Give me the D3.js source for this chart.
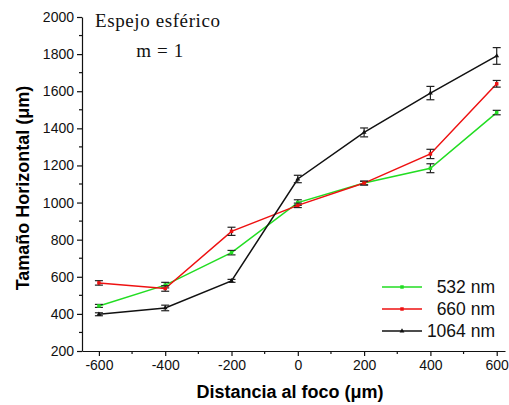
<!DOCTYPE html>
<html><head><meta charset="utf-8">
<script src="https://cdn.jsdelivr.net/npm/d3@7"></script>
<style>body{margin:0;background:#fff}svg{display:block}</style>
</head><body>
<svg id="c" width="509" height="405"></svg>
<script>
const distances = [-600, -400, -200, 0, 200, 400, 600];
const green532 = [443, 555, 730, 1000, 1105, 1185, 1485];
const green532Err = [8, 15, 12, 15, 10, 24, 12];
const red660 = [567, 537, 845, 985, 1105, 1262, 1640];
const red660Err = [12, 15, 22, 12, 10, 25, 18];
const black1064 = [398, 432, 578, 1127, 1378, 1590, 1790];
const black1064Err = [8, 15, 8, 20, 24, 36, 45];
const xTicks = [-600, -400, -200, 0, 200, 400, 600];
const yTicks = [200, 400, 600, 800, 1000, 1200, 1400, 1600, 1800, 2000];
const seriesNames = ["532 nm", "660 nm", "1064 nm"];
const seriesColors = ["#22dd22", "#ee1111", "#111111"];

const svg = d3.select("#c");
const x = d3.scaleLinear().domain([-651, 625]).range([82, 505]);
const y = d3.scaleLinear().domain([200, 2000]).range([351, 17]);
const fmt = d => String(d);

// axes
const xAxis = d3.axisBottom(x).tickValues(xTicks).tickFormat(fmt).tickSize(5).tickSizeOuter(0).tickPadding(4);
const gx = svg.append("g").attr("transform", "translate(0,351)").call(xAxis);
const yAxis = d3.axisLeft(y).tickValues(yTicks).tickFormat(fmt).tickSize(5).tickSizeOuter(0).tickPadding(3);
const gy = svg.append("g").attr("transform", "translate(82,0)").call(yAxis);
[gx, gy].forEach(g => {
  g.selectAll("text").attr("font-family", "Liberation Sans, Arial, sans-serif").attr("font-size", 14).attr("fill", "#111");
  g.selectAll("line,path").attr("stroke", "#111").attr("stroke-width", 1.2);
});
// minor ticks
svg.append("g").selectAll("line").data(d3.range(-500, 601, 200)).join("line")
  .attr("x1", d => x(d)).attr("x2", d => x(d)).attr("y1", 351).attr("y2", 354)
  .attr("stroke", "#111").attr("stroke-width", 1.2);
svg.append("g").selectAll("line").data(d3.range(300, 2000, 200)).join("line")
  .attr("x1", 79).attr("x2", 82).attr("y1", d => y(d)).attr("y2", d => y(d))
  .attr("stroke", "#111").attr("stroke-width", 1.2);

// axis titles
svg.append("text").attr("x", 290).attr("y", 398).attr("text-anchor", "middle")
  .attr("font-family", "Liberation Sans, Arial, sans-serif").attr("font-weight", "bold").attr("font-size", 18)
  .text("Distancia al foco (μm)");
svg.append("text").attr("transform", "translate(29,188) rotate(-90)").attr("text-anchor", "middle")
  .attr("font-family", "Liberation Sans, Arial, sans-serif").attr("font-weight", "bold").attr("font-size", 18)
  .text("Tamaño Horizontal (μm)");

// annotation
svg.append("text").attr("x", 95).attr("y", 27).attr("font-family", "Liberation Serif, Times New Roman, serif")
  .attr("font-size", 19).attr("letter-spacing", 0.6).attr("fill", "#111").text("Espejo esférico");
svg.append("text").attr("x", 160).attr("y", 57).attr("text-anchor", "middle").attr("font-family", "Liberation Serif, Times New Roman, serif")
  .attr("font-size", 19).attr("letter-spacing", 0.6).attr("fill", "#111").text("m = 1");

const series = [
  {vals: green532, err: green532Err, marker: "square"},
  {vals: red660, err: red660Err, marker: "square"},
  {vals: black1064, err: black1064Err, marker: "triangle"}
];
const line = d3.line().x(d => x(d[0])).y(d => y(d[1]));

series.forEach((s, i) => {
  const pts = distances.map((d, j) => [d, s.vals[j], s.err[j]]);
  const g = svg.append("g");
  g.append("path").datum(pts).attr("d", line).attr("fill", "none").attr("stroke", seriesColors[i]).attr("stroke-width", 1.5);
  const eb = g.selectAll(".eb").data(pts).join("g");
  eb.append("line").attr("x1", d => x(d[0])).attr("x2", d => x(d[0]))
    .attr("y1", d => y(d[1] - d[2])).attr("y2", d => y(d[1] + d[2])).attr("stroke", "#222").attr("stroke-width", 1.2);
  eb.append("line").attr("x1", d => x(d[0]) - 4).attr("x2", d => x(d[0]) + 4)
    .attr("y1", d => y(d[1] - d[2])).attr("y2", d => y(d[1] - d[2])).attr("stroke", "#222").attr("stroke-width", 1.2);
  eb.append("line").attr("x1", d => x(d[0]) - 4).attr("x2", d => x(d[0]) + 4)
    .attr("y1", d => y(d[1] + d[2])).attr("y2", d => y(d[1] + d[2])).attr("stroke", "#222").attr("stroke-width", 1.2);
  const sym = d3.symbol().type(s.marker === "square" ? d3.symbolSquare : d3.symbolTriangle).size(s.marker === "square" ? 12 : 10);
  g.selectAll(".mk").data(pts).join("path").attr("d", sym)
    .attr("transform", d => `translate(${x(d[0])},${y(d[1])})`).attr("fill", seriesColors[i]);

  // legend
  const ly = 287 + i * 22;
  svg.append("line").attr("x1", 382).attr("x2", 422).attr("y1", ly).attr("y2", ly).attr("stroke", seriesColors[i]).attr("stroke-width", 1.5);
  svg.append("path").attr("d", sym).attr("transform", `translate(402,${ly})`).attr("fill", seriesColors[i]);
  svg.append("text").attr("x", 495).attr("y", ly + 6).attr("text-anchor", "end")
    .attr("font-family", "Liberation Sans, Arial, sans-serif").attr("font-size", 17.5).attr("fill", "#111")
    .text(seriesNames[i]);
});
</script>
</body></html>
